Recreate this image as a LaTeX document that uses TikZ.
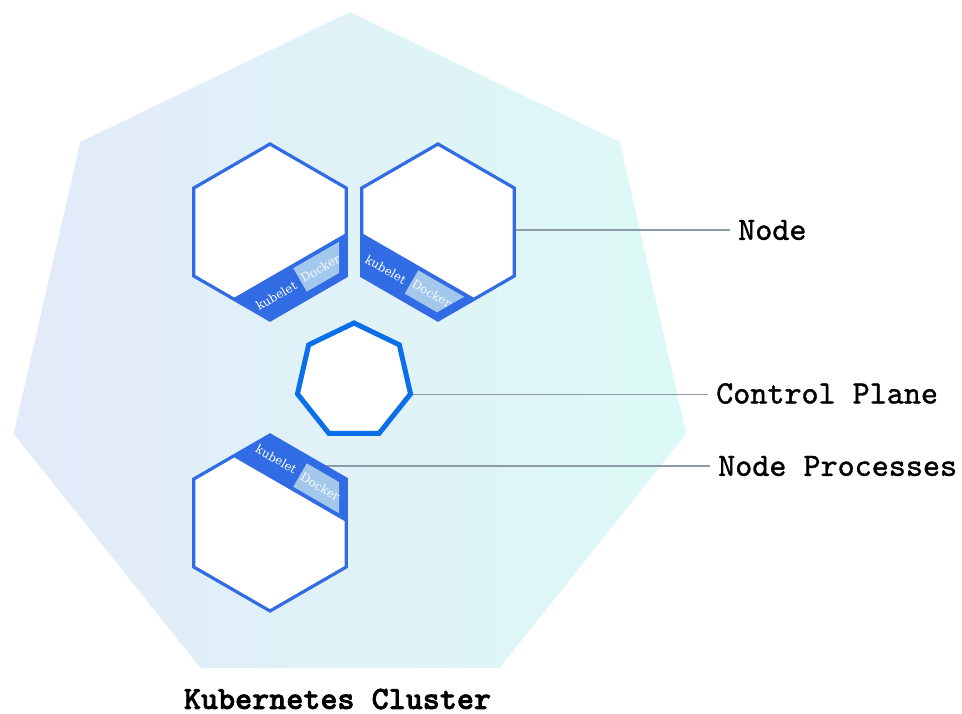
\documentclass[tikz,border=0pt]{standalone}
\usepackage{fontspec}
\usetikzlibrary{shapes.geometric}
\newfontfamily\labfont{lmmono10-regular.otf}[FakeBold=1.2]
\newfontfamily\clusterfont{lmmonolt10-bold.otf}[FakeBold=2]
\newfontfamily\smallserif{DejaVu Serif}
\definecolor{k8s}{HTML}{326CE5}
\definecolor{cpblue}{HTML}{0A6FE8}
\definecolor{dockbox}{HTML}{A3C8EC}
\definecolor{leader}{HTML}{8D9BA7}
\definecolor{bgl}{HTML}{E3EAF9}
\definecolor{bgr}{HTML}{DCFAF5}
\newcommand\kubehex[4]{%
  \begin{scope}[shift={(#1,#2)}, rotate=#3, yscale=#4]
    \fill[white] (0:88) -- (60:88) -- (120:88) -- (180:88) -- (240:88) -- (300:88) -- cycle;
    \fill[band] (-44,-76.2) -- (44,-76.2) -- (65.5,-39) -- (-65.5,-39) -- cycle;
    \fill[dockerbox] (2,-43) -- (55,-43) -- (39.4,-70) -- (2,-70) -- cycle;
    \node[tinytext, rotate=#3] at (-26.5,-58.5) {kubelet};
    \node[tinytext, text=white!92!dockbox, rotate=#3] at (25.5,-56.5) {Docker};
    \draw[hexline] (0:88) -- (60:88) -- (120:88) -- (180:88) -- (240:88) -- (300:88) -- cycle;
  \end{scope}}
\begin{document}
\begin{tikzpicture}[x=1pt,y=1pt,
  lab/.style={font=\labfont\fontsize{32.5}{32.5}\selectfont, anchor=west, inner xsep=8pt, inner ysep=0pt, text=black},
  leaderline/.style={draw=leader, line width=1.3pt},
  hexline/.style={draw=k8s, line width=3.2pt, line join=miter},
  band/.style={fill=k8s},
  dockerbox/.style={fill=dockbox},
  tinytext/.style={font=\smallserif\fontsize{11.8}{11.8}\selectfont, text=white, inner sep=0pt},
]
\useasboundingbox (0,0) rectangle (962,-713);
\node[regular polygon, regular polygon sides=7, minimum size=690pt, inner sep=0pt, outer sep=0pt, left color=bgl, right color=bgr, draw=none] (cluster) at (350,-357) {};

\node[lab] (nodelbl) at (730,-230) {Node};
\node[lab] (cplbl) at (708,-393.5) {Control Plane};
\node[lab] (nplbl) at (710,-466) {Node Processes};
\node[font=\clusterfont\fontsize{32.5}{32.5}\selectfont, inner sep=0pt] (clusterlbl) at (337.5,-699) {Kubernetes Cluster};

\coordinate (hexnode) at (514,-230);
\coordinate (hexproc) at (325,-466);
\draw[leaderline] (hexnode) -- (nodelbl.west);
\draw[leaderline] (hexproc) -- (nplbl.west);

\kubehex{270}{-232}{30}{1}
\kubehex{438}{-232}{-30}{1}
\kubehex{270}{-523}{-30}{-1}

\node[regular polygon, regular polygon sides=7, minimum size=116pt, inner sep=0pt, draw=cpblue, line width=5pt, fill=white] (cp) at (354,-381) {};
\draw[leaderline] (cp.corner 6) -- (cp.corner 6 -| cplbl.west);
\end{tikzpicture}
\end{document}
